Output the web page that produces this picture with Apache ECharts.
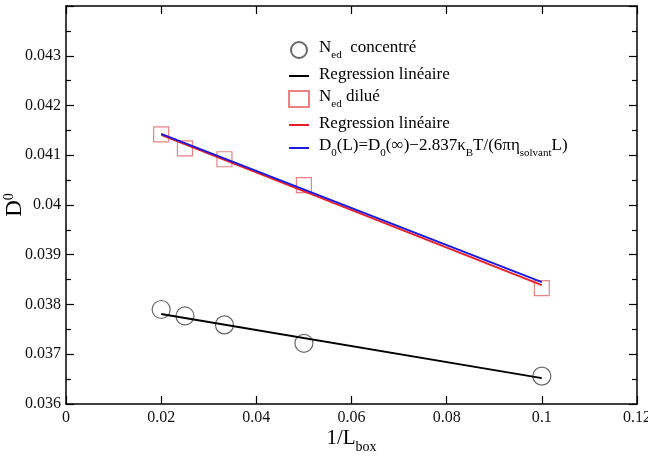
<!DOCTYPE html>
<html>
<head>
<meta charset="utf-8">
<script src="https://cdn.jsdelivr.net/npm/echarts@6/dist/echarts.min.js"></script>
<style>
  html, body { margin: 0; padding: 0; background: #fff; }
  #chart { width: 648px; height: 456px; }
</style>
</head>
<body>
<div id="chart"></div>
<script>
// valeurs
var invL = [0.02, 0.025, 0.0333, 0.05, 0.1];
var concentre = [0.0379, 0.03777, 0.03759, 0.03722, 0.03656];
var dilue = [0.04142, 0.04114, 0.04092, 0.0404, 0.03833];
var regX = [0.02, 0.1];
var regConcentre = [0.03781, 0.03652];
var regDilue = [0.04141, 0.03839];
var theorie = [0.04143, 0.03845];

var serif = "Liberation Serif";

function pairs(xs, ys) {
  return xs.map(function (x, i) { return [x, ys[i]]; });
}

var richText = {
  n: { fontFamily: serif, fontSize: 17, color: "#000", lineHeight: 20, verticalAlign: "top" },
  sub: { fontFamily: serif, fontSize: 11, color: "#000", verticalAlign: "top", padding: [11, 0, 0, 0] }
};

var legendLabels = {
  "Ned concentré": "{n|N}{sub|ed}{n|  concentré}",
  "Regression linéaire 1": "{n|Regression linéaire}",
  "Ned dilué": "{n|N}{sub|ed}{n| dilué}",
  "Regression linéaire 2": "{n|Regression linéaire}",
  "theorie": "{n|D}{sub|0}{n|(L)=D}{sub|0}{n|(∞)−2.837κ}{sub|B}{n|T/(6πη}{sub|solvant}{n|L)}"
};

var noDot = { color: "rgba(0,0,0,0)", borderColor: "rgba(0,0,0,0)", borderWidth: 0, opacity: 0 };

var chart = echarts.init(document.getElementById("chart"));

var axisCommon = {
  axisLine: { show: true, onZero: false, lineStyle: { color: "#000", width: 1.5 } },
  axisTick: { show: true, inside: true, length: 8, lineStyle: { color: "#000", width: 1.2 } },
  splitLine: { show: false }
};

var option = {
  animation: false,
  grid: { left: 66, right: 11, top: 6, bottom: 52, outerBoundsMode: "none", containLabel: false },
  xAxis: [
    Object.assign({}, axisCommon, {
      type: "value", min: 0, max: 0.12, interval: 0.02,
      name: "{a|1/L}{b|box}", nameLocation: "middle", nameGap: 24, nameMoveOverlap: false,
      nameTextStyle: {
        rich: {
          a: { fontFamily: serif, fontSize: 21, color: "#000", lineHeight: 26, verticalAlign: "top" },
          b: { fontFamily: serif, fontSize: 14, color: "#000", verticalAlign: "top", padding: [12, 0, 0, 0] }
        }
      },
      axisLabel: { fontFamily: serif, fontSize: 16, color: "#111", margin: 6 }
    }),
    Object.assign({}, axisCommon, {
      type: "value", min: 0, max: 0.12, interval: 0.02, position: "top",
      axisLabel: { show: false }
    })
  ],
  yAxis: [
    Object.assign({}, axisCommon, {
      type: "value", min: 0.036, max: 0.044, interval: 0.001,
      minorTick: { show: true, splitNumber: 2, length: 5, lineStyle: { color: "#000", width: 1.2 } },
      name: "{a|D}{b|0}", nameLocation: "middle", nameGap: 38, nameRotate: 90, nameMoveOverlap: false,
      nameTextStyle: {
        rich: {
          a: { fontFamily: serif, fontSize: 23, color: "#000", lineHeight: 26 },
          b: { fontFamily: serif, fontSize: 14, color: "#000", lineHeight: 26, verticalAlign: "top", padding: [0, 0, 10, 0] }
        }
      },
      axisLabel: {
        fontFamily: serif, fontSize: 16, color: "#111", margin: 5,
        showMaxLabel: false
      }
    }),
    Object.assign({}, axisCommon, {
      type: "value", min: 0.036, max: 0.044, interval: 0.001, position: "right",
      minorTick: { show: true, splitNumber: 2, length: 5, lineStyle: { color: "#000", width: 1.2 } },
      axisLabel: { show: false }
    })
  ],
  legend: {
    orient: "vertical",
    left: 283,
    top: 34,
    itemWidth: 20,
    itemHeight: 16,
    itemGap: 5,
    selectedMode: false,
    data: [
      { name: "Ned concentré" },
      { name: "Regression linéaire 1", itemStyle: noDot },
      { name: "Ned dilué" },
      { name: "Regression linéaire 2", itemStyle: noDot },
      { name: "theorie", itemStyle: noDot }
    ],
    formatter: function (name) { return legendLabels[name]; },
    textStyle: { rich: richText, padding: [0, 0, 0, 5] }
  },
  series: [
    {
      name: "Ned concentré",
      type: "scatter",
      data: pairs(invL, concentre),
      symbol: "circle",
      symbolSize: 18,
      itemStyle: { color: "rgba(0,0,0,0)", borderColor: "#444", borderWidth: 1.2 },
      z: 2
    },
    {
      name: "Regression linéaire 1",
      type: "line",
      data: pairs(regX, regConcentre),
      symbol: "none",
      lineStyle: { color: "#000", width: 2 },
      itemStyle: { color: "#000" },
      z: 3
    },
    {
      name: "Ned dilué",
      type: "scatter",
      data: pairs(invL, dilue),
      symbol: "rect",
      symbolSize: 15,
      itemStyle: { color: "rgba(0,0,0,0)", borderColor: "#e86060", borderWidth: 1.2 },
      z: 2
    },
    {
      name: "Regression linéaire 2",
      type: "line",
      data: pairs(regX, regDilue),
      symbol: "none",
      lineStyle: { color: "#e8202a", width: 2 },
      itemStyle: { color: "#e8202a" },
      z: 3
    },
    {
      name: "theorie",
      type: "line",
      data: pairs(regX, theorie),
      symbol: "none",
      lineStyle: { color: "#1a1ae0", width: 2 },
      itemStyle: { color: "#1a1ae0" },
      z: 4
    }
  ]
};

chart.setOption(option);
</script>
</body>
</html>
